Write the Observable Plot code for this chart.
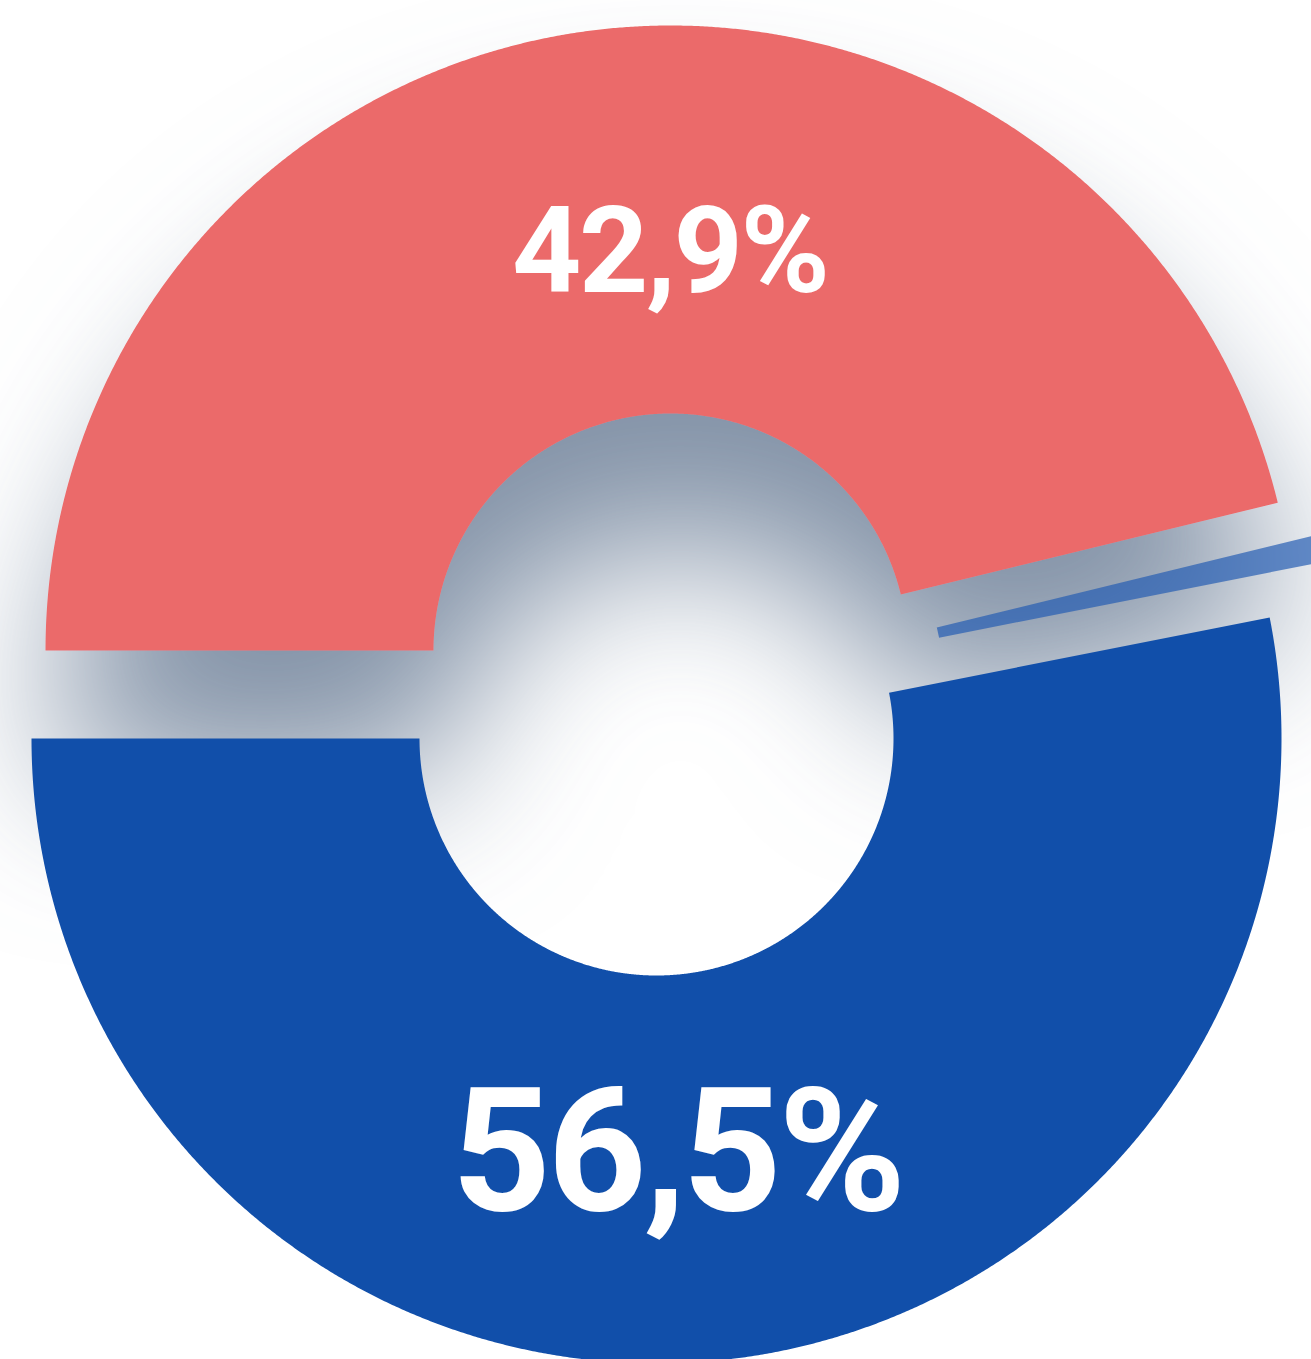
<!DOCTYPE html>
<html><head><meta charset="utf-8">
<script src="https://cdn.jsdelivr.net/npm/d3@7"></script>
<script src="https://cdn.jsdelivr.net/npm/@observablehq/plot@0.6"></script>
<style>
html,body{margin:0;padding:0;background:#fff;overflow:hidden}
#chart svg{display:block;overflow:hidden}
</style>
</head><body><div id="chart"></div>
<script>
// ---- data ----
const slices = ["blue", "other", "red"];
const drawnShare = [53.1, 0.7, 46.2];     // share of the ring each slice covers in the picture
const labelValues = [56.5, 0.6, 42.9];    // printed percentages
const labelShown = [true, false, true];

// ---- layout / style ----
const W = 1311, H = 1359;
const PX = 625;            // pixels per unit (outer radius = 1)
const CX = 663, CY = 694;  // pixel position of the ring's common centre
const innerRatio = 237 / 625;
const startDeg = 180;
const palette = {blue: "#114faa", other: "#235cb2", red: "#eb6b6a"};
const sliceOpacity = {blue: 1, other: 0.69, red: 1};
const explode = {blue: [-0.0112, -0.0704], other: [0.0688, 0.0176], red: [0.0112, 0.0704]};
const labelPolar = {blue: {r: 0.657, a: -87.1, size: 173}, red: {r: 0.643, a: 90.1, size: 121}};

const total = d3.sum(drawnShare);
let acc = startDeg;
const arcs = slices.map((key, i) => {
  const a0 = acc, a1 = acc + drawnShare[i] / total * 360;
  acc = a1;
  return {key, a0, a1, i};
});

function ringPoints(arc) {
  const [ox, oy] = explode[arc.key];
  const pts = [];
  const n = Math.max(8, Math.ceil((arc.a1 - arc.a0) / 0.2));
  for (let k = 0; k <= n; k++) {
    const a = (arc.a0 + (arc.a1 - arc.a0) * k / n) * Math.PI / 180;
    pts.push({key: arc.key, x: ox + Math.cos(a), y: oy + Math.sin(a)});
  }
  for (let k = n; k >= 0; k--) {
    const a = (arc.a0 + (arc.a1 - arc.a0) * k / n) * Math.PI / 180;
    pts.push({key: arc.key, x: ox + innerRatio * Math.cos(a), y: oy + innerRatio * Math.sin(a)});
  }
  return pts;
}

const fmt = v => String(v.toFixed(1)).replace(".", ",") + "%";

const drawOrder = ["red", "other", "blue"];
const sliceMarks = drawOrder.map(key => {
  const arc = arcs.find(d => d.key === key);
  return Plot.line(ringPoints(arc), {
    x: "x", y: "y", fill: palette[key], fillOpacity: sliceOpacity[key],
    stroke: "none", ariaDescription: "slice-" + key
  });
});

const labelMarks = arcs.filter(d => labelShown[d.i]).map(arc => {
  const L = labelPolar[arc.key];
  const [ox, oy] = explode[arc.key];
  const a = L.a * Math.PI / 180;
  const cx = ox + L.r * Math.cos(a);
  const cy = oy + L.r * Math.sin(a) - 0.355 * L.size / PX; // baseline below cap centre
  return Plot.text([{x: cx, y: cy, t: fmt(labelValues[arc.i])}], {
    x: "x", y: "y", text: "t", fill: "white", fontSize: L.size, fontWeight: 700,
    fontFamily: "Roboto", textAnchor: "middle", lineAnchor: "bottom"
  });
});

const chart = Plot.plot({
  width: W, height: H,
  margin: 0,
  x: {domain: [-CX / PX, (W - CX) / PX], range: [0, W], axis: null},
  y: {domain: [CY / PX, -(H - CY) / PX], range: [0, H], axis: null},
  style: {background: "white", overflow: "hidden"},
  marks: [...sliceMarks, ...labelMarks]
});

// soft drop shadow under the red slice
const svg = d3.select(chart);
const defs = svg.insert("defs", ":first-child");
const f = defs.append("filter").attr("id", "redShadow")
  .attr("filterUnits", "userSpaceOnUse")
  .attr("x", -500).attr("y", -500).attr("width", W + 1000).attr("height", H + 1000);
f.append("feDropShadow").attr("dx", 10).attr("dy", 130).attr("stdDeviation", 80)
  .attr("flood-color", "#8393a7").attr("flood-opacity", 1);
svg.select('[aria-description="slice-red"]').attr("filter", "url(#redShadow)");
svg.selectAll("text").style("letter-spacing", "-0.02em");

document.getElementById("chart").appendChild(chart);
</script>
</body></html>
